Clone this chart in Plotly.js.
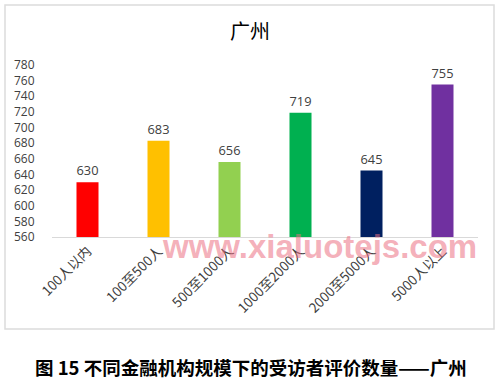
<!DOCTYPE html>
<html>
<head>
<meta charset="utf-8">
<script src="https://cdn.plot.ly/plotly-3.0.1.min.js"></script>
<style>html,body{margin:0;padding:0;background:#fff;}#chart{width:500px;height:379px;}</style>
</head>
<body>
<div id="chart"></div>
<script>
const categories = ["100人以内", "100至500人", "500至1000人", "1000至2000人", "2000至5000人", "5000人以上"];
const values = [630, 683, 656, 719, 645, 755];
const barColors = ["#FF0000", "#FFC000", "#92D050", "#00B050", "#002060", "#7030A0"];
const yTicks = [560, 580, 600, 620, 640, 660, 680, 700, 720, 740, 760, 780];
const chartTitle = "广州";
const caption = "图 15 不同金融机构规模下的受访者评价数量——广州";
const watermark = "www.xialuotejs.com";

const L = 52, R = 22, T = 65, B = 142;
const W = 500 - L - R, H = 379 - T - B;
const px = x => (x - L) / W;
const py = y => (379 - B - y) / H;

const trace = {
  type: "bar",
  x: categories,
  y: values,
  marker: {color: barColors},
  text: values.map(String),
  textposition: "outside",
  textfont: {family: "Open Sans, DejaVu Sans, sans-serif", size: 13, color: "#404040"},
  cliponaxis: false,
  hoverinfo: "none"
};

const layout = {
  width: 500, height: 379,
  margin: {l: L, r: R, t: T, b: B},
  paper_bgcolor: "#ffffff",
  plot_bgcolor: "#ffffff",
  showlegend: false,
  bargap: 0.69,
  font: {family: "Open Sans, Noto Sans CJK SC, sans-serif", color: "#404040"},
  xaxis: {
    type: "category",
    tickangle: -45,
    tickfont: {family: "Noto Sans CJK SC, sans-serif", size: 13.5, color: "#404040"},
    showline: true, linecolor: "#d9d9d9", linewidth: 1,
    ticks: "", showgrid: false, zeroline: false,
    fixedrange: true
  },
  yaxis: {
    range: [560, 780],
    tickvals: yTicks,
    ticktext: yTicks.map(String),
    tickfont: {family: "Open Sans, DejaVu Sans, sans-serif", size: 12, color: "#404040"},
    showgrid: false, zeroline: false, showline: false,
    ticks: "outside", ticklen: 14, tickcolor: "rgba(0,0,0,0)",
    fixedrange: true
  },
  title: {
    text: chartTitle,
    font: {family: "Noto Sans CJK SC, sans-serif", size: 20, color: "#000000"},
    x: 0.5, xanchor: "center", y: 1 - 32 / 379, yanchor: "middle", yref: "container"
  },
  shapes: [{
    type: "rect", xref: "paper", yref: "paper",
    x0: px(5), x1: px(494), y0: py(329), y1: py(5),
    line: {color: "#dcdcdc", width: 1.5}, fillcolor: "rgba(0,0,0,0)", layer: "below"
  }],
  annotations: [
    {
      text: caption, xref: "paper", yref: "paper",
      x: px(251), y: py(367), xanchor: "center", yanchor: "middle",
      showarrow: false,
      font: {family: "Noto Sans CJK SC, sans-serif", size: 18.5, color: "#000000", weight: "bold"}
    },
    {
      text: watermark, xref: "paper", yref: "paper",
      x: px(319), y: py(246), xanchor: "center", yanchor: "middle",
      showarrow: false,
      font: {family: "Liberation Sans, Arial, sans-serif", size: 33, color: "rgba(236,110,128,0.55)", weight: "bold"}
    }
  ]
};

Plotly.newPlot("chart", [trace], layout, {displayModeBar: false, staticPlot: true});
</script>
</body>
</html>
